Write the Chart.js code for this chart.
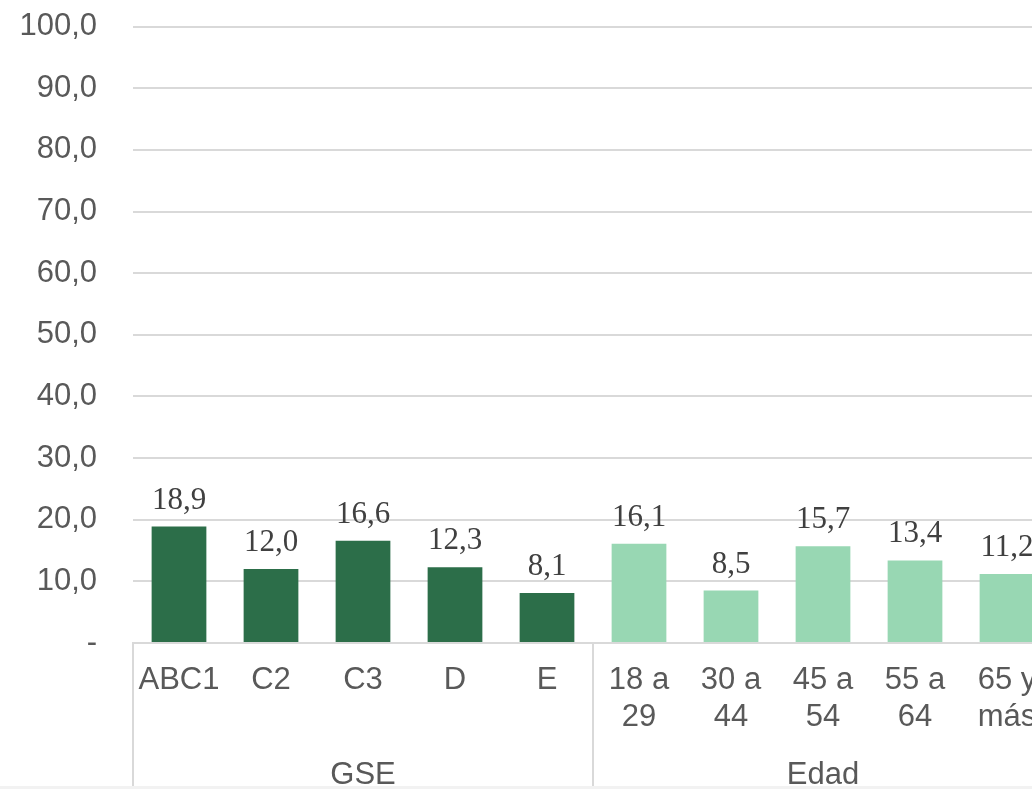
<!DOCTYPE html>
<html>
<head>
<meta charset="utf-8">
<script src="https://cdn.jsdelivr.net/npm/chart.js@4/dist/chart.umd.min.js"></script>
<style>
    html, body { margin: 0; padding: 0; overflow: hidden; background: #f2f2f2; }
    #wrap { width: 1032px; height: 786px; overflow: hidden; background: #ffffff; }
    #chart { display: block; margin-top: -28px; }
</style>
</head>
<body>
<div id="wrap"><canvas id="chart" width="1060" height="814"></canvas></div>
<script>
"use strict";

const categories = [["ABC1"], ["C2"], ["C3"], ["D"], ["E"], ["18 a", "29"], ["30 a", "44"], ["45 a", "54"], ["55 a", "64"], ["65 y", "más"]];
const values = [18.9, 12.0, 16.6, 12.3, 8.1, 16.1, 8.5, 15.7, 13.4, 11.2];
const group_names = ["GSE", "Edad"];
const group_sizes = [5, 5];
const y_ticks = [0, 10, 20, 30, 40, 50, 60, 70, 80, 90, 100];

const DARK = "#2c6e49";
const LIGHT = "#98d7b3";
const TEXT = "#595959";
const LINE = "#d9d9d9";
const SANS = "'Liberation Sans', Arial, sans-serif";

function fmt(v) {
    return v.toFixed(1).replace(".", ",");
}

// colour by group
let bar_colors = [];
group_sizes.forEach((n, g) => {
    for (let i = 0; i < n; i++) bar_colors.push(g === 0 ? DARK : LIGHT);
});

const value_labels = {
    id: "value_labels",
    afterDatasetsDraw(chart) {
        const ctx = chart.ctx;
        const meta = chart.getDatasetMeta(0);
        ctx.save();
        ctx.font = "31px 'Liberation Serif', 'Times New Roman', serif";
        ctx.fillStyle = "#404040";
        ctx.textAlign = "center";
        ctx.textBaseline = "alphabetic";
        meta.data.forEach((bar, i) => {
            ctx.fillText(fmt(values[i]), bar.x, bar.y - 18);
        });
        ctx.restore();
    }
};

const group_axis = {
    id: "group_axis",
    afterDraw(chart) {
        const ctx = chart.ctx;
        const x = chart.scales.x;
        const area = chart.chartArea;
        const bottom = chart.height;
        ctx.save();
        ctx.strokeStyle = LINE;
        ctx.lineWidth = 2;
        ctx.font = "31px " + SANS;
        ctx.fillStyle = TEXT;
        ctx.textAlign = "center";
        ctx.textBaseline = "middle";
        let start = 0;
        let left = area.left;
        group_sizes.forEach((n, g) => {
            const end = start + n - 1;
            let right;
            if (end + 1 < values.length) {
                right = (x.getPixelForValue(end) + x.getPixelForValue(end + 1)) / 2;
            } else {
                right = area.right;
            }
            ctx.beginPath();
            ctx.moveTo(left, area.bottom);
            ctx.lineTo(left, bottom);
            ctx.stroke();
            ctx.fillText(group_names[g], (left + right) / 2, bottom - 11);
            left = right;
            start = end + 1;
        });
        ctx.restore();
    }
};

new Chart(document.getElementById("chart"), {
    type: "bar",
    data: {
        labels: categories,
        datasets: [{
            data: values,
            backgroundColor: bar_colors,
            categoryPercentage: 1,
            barPercentage: 0.595,
        }]
    },
    options: {
        responsive: false,
        animation: false,
        layout: { padding: { top: 0, right: 7, left: 0, bottom: 0 } },
        plugins: {
            legend: { display: false },
            tooltip: { enabled: false },
        },
        scales: {
            y: {
                min: 0,
                max: 100,
                afterBuildTicks(scale) {
                    scale.ticks = y_ticks.map(v => ({ value: v }));
                },
                afterFit(scale) { scale.width = 133; },
                border: { display: false },
                grid: { color: LINE, lineWidth: 2, drawTicks: false },
                ticks: {
                    padding: 36,
                    color: TEXT,
                    font: { family: SANS, size: 31 },
                    callback: v => v === 0 ? "-" : fmt(v),
                }
            },
            x: {
                afterFit(scale) { scale.height = 143; },
                border: { display: true, color: LINE, width: 2 },
                grid: { display: false, drawTicks: false },
                ticks: {
                    padding: 19,
                    color: TEXT,
                    maxRotation: 0,
                    autoSkip: false,
                    font: { family: SANS, size: 31, lineHeight: 1.2 },
                }
            }
        }
    },
    plugins: [value_labels, group_axis]
});
</script>
</body>
</html>
